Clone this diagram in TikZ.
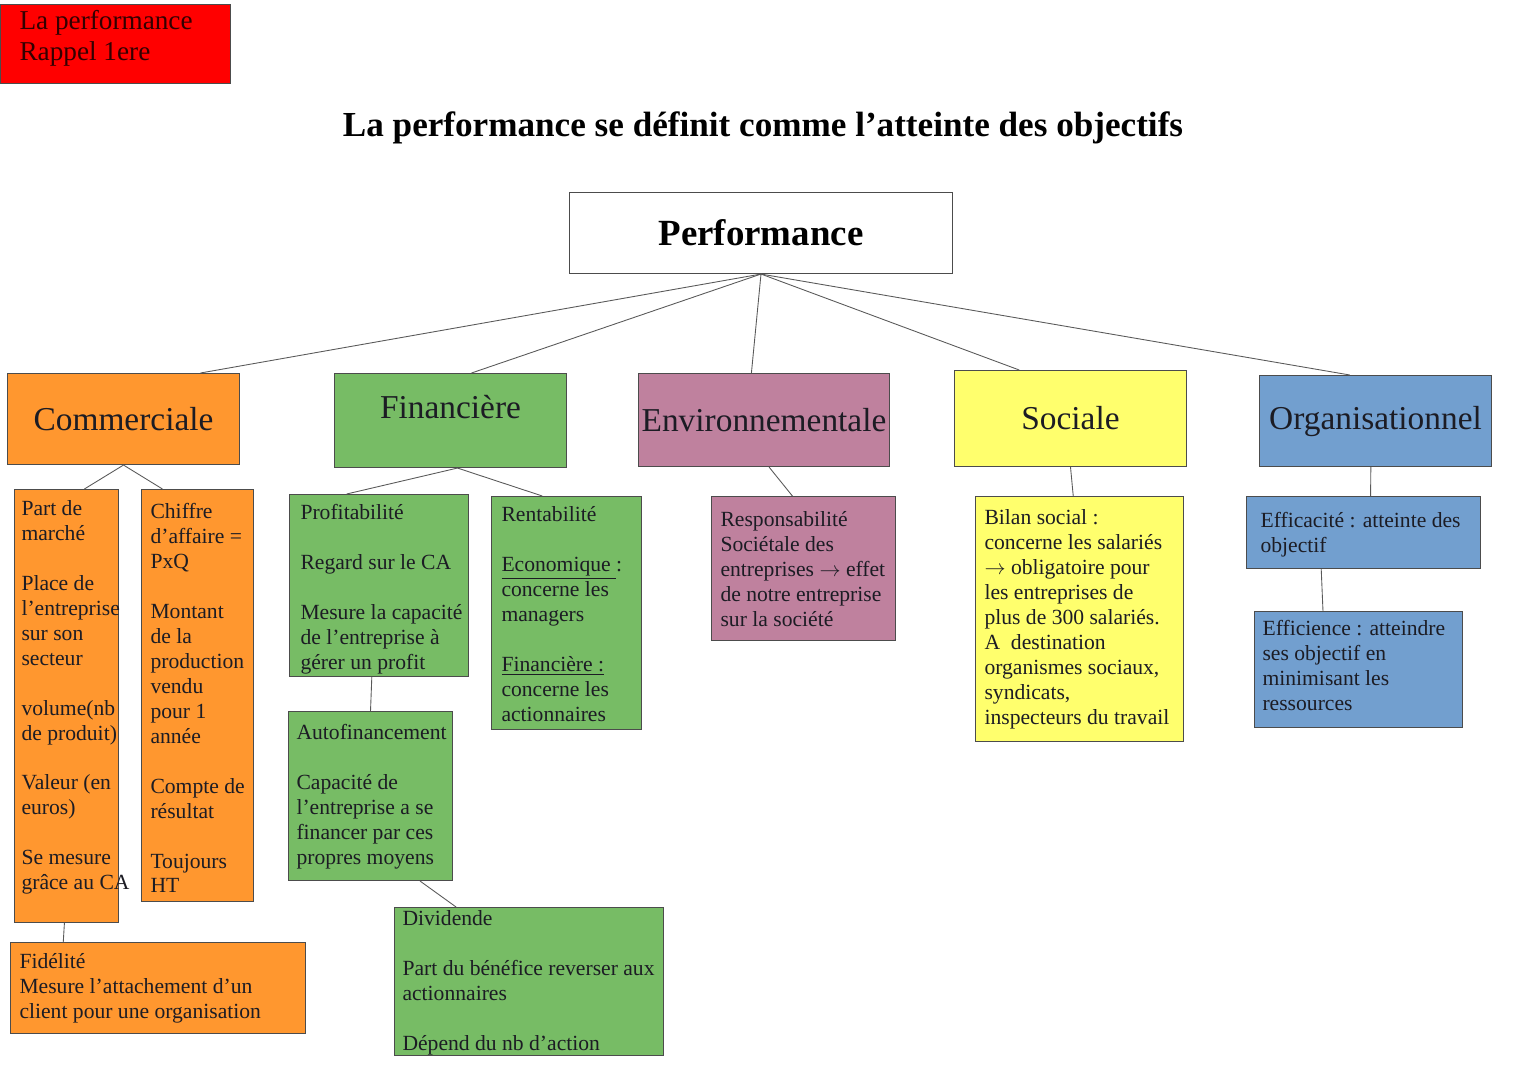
\documentclass[tikz,border=0pt]{standalone}
\usepackage{fontspec}
\setmainfont{Liberation Serif}
\usetikzlibrary{positioning,calc}
\definecolor{orangeb}{HTML}{FF972F}
\definecolor{vertb}{HTML}{77BC65}
\definecolor{roseb}{HTML}{BF819E}
\definecolor{jauneb}{HTML}{FFFF6D}
\definecolor{bleub}{HTML}{729FCF}
\definecolor{rougeb}{HTML}{FF0000}
\definecolor{encre}{HTML}{1C1C24}
\newcommand{\vide}{\\[14.2pt]}
\begin{document}
\begin{tikzpicture}[x=0.02cm,y=-0.02cm,line width=0.6pt,
    boite/.style={draw=black!70,anchor=north west,inner sep=0pt},
    titre/.style={font=\fontsize{19}{22}\selectfont,text=encre},
    texte/.style={anchor=north west,inner sep=0pt,align=left,text=encre,font=\fontsize{12.3}{14.2}\selectfont},
    lien/.style={draw=black!65,line width=0.5pt}]
\useasboundingbox (0,0) rectangle (1527,1080);

% en-tete
\node[boite,fill=rougeb,minimum width=4.6cm,minimum height=1.58cm] (rappel) at (0,4) {};
\node[texte,font=\fontsize{15.5}{17.5}\selectfont,text=black!80!red] (trappel) at (19,10) {La performance\\Rappel 1ere};
\node[font=\bfseries\fontsize{20}{24}\selectfont] (titre) at (763,128) {La performance se définit comme l’atteinte des objectifs};

% niveau 1
\node[boite,fill=white,minimum width=7.66cm,minimum height=1.62cm,font=\bfseries\fontsize{21}{24}\selectfont] (perf) at (569,192) {Performance};

% niveau 2
\node[boite,fill=orangeb,minimum width=4.64cm,minimum height=1.82cm,titre] (com) at (7,373) {Commerciale};
\node[boite,fill=vertb,minimum width=4.64cm,minimum height=1.88cm,titre] (fin) at (334,373) {Financière\rule[-16pt]{0pt}{0pt}};
\node[boite,fill=roseb,minimum width=5.02cm,minimum height=1.86cm,titre] (env) at (638,373) {Environnementale};
\node[boite,fill=jauneb,minimum width=4.64cm,minimum height=1.92cm,titre] (soc) at (954,370) {Sociale};
\node[boite,fill=bleub,minimum width=4.64cm,minimum height=1.82cm,titre] (org) at (1259,375) {Organisationnel};

% niveau 3
\node[boite,fill=orangeb,minimum width=2.08cm,minimum height=8.66cm] (part) at (14,489) {};
\node[boite,fill=orangeb,minimum width=2.24cm,minimum height=8.24cm] (ca) at (141,489) {};
\node[boite,fill=orangeb,minimum width=5.9cm,minimum height=1.82cm] (fid) at (10,942) {};
\node[boite,fill=vertb,minimum width=3.58cm,minimum height=3.64cm] (profit) at (289,494) {};
\node[boite,fill=vertb,minimum width=3cm,minimum height=4.66cm] (renta) at (491,496) {};
\node[boite,fill=vertb,minimum width=3.28cm,minimum height=3.38cm] (auto) at (288,711) {};
\node[boite,fill=vertb,minimum width=5.38cm,minimum height=2.96cm] (divid) at (394,907) {};
\node[boite,fill=roseb,minimum width=3.68cm,minimum height=2.88cm] (resp) at (711,496) {};
\node[boite,fill=jauneb,minimum width=4.16cm,minimum height=4.9cm] (bilan) at (975,496) {};
\node[boite,fill=bleub,minimum width=4.68cm,minimum height=1.44cm] (effica) at (1246,496) {};
\node[boite,fill=bleub,minimum width=4.16cm,minimum height=2.32cm] (effici) at (1254,611) {};

% textes
\node[texte] (tpart) at (21,500) {Part de\\marché\vide Place de\\l’entreprise\\sur son\\secteur\vide volume(nb\\de produit)\vide Valeur (en\\euros)\vide Se mesure\\grâce au CA};
\node[texte] (tca) at (150,503) {Chiffre\\d’affaire =\\PxQ\vide Montant\\de la\\production\\vendu\\pour 1\\année\vide Compte de\\résultat\vide Toujours\\HT};
\node[texte] (tfid) at (19,953) {Fidélité\\Mesure l’attachement d’un\\client pour une organisation};
\node[texte] (tprofit) at (300,504) {Profitabilité\vide Regard sur le CA\vide Mesure la capacité\\de l’entreprise à\\gérer un profit};
\node[texte] (trenta) at (501,506) {Rentabilité\vide \underline{Economique }:\\concerne les\\managers\vide \underline{Financière :}\\concerne les\\actionnaires};
\node[texte] (tauto) at (296,724) {Autofinancement\vide Capacité de\\l’entreprise a se\\financer par ces\\propres moyens};
\node[texte] (tdivid) at (402,910) {Dividende\vide Part du bénéfice reverser aux\\actionnaires\vide Dépend du nb d’action};
\node[texte] (tresp) at (720,511) {Responsabilité\\Sociétale des\\entreprises $\rightarrow$ effet\\de notre entreprise\\sur la société};
\node[texte] (tbilan) at (984,509) {Bilan social :\\concerne les salariés\\$\rightarrow$ obligatoire pour\\les entreprises de\\plus de 300 salariés.\\A\ \ destination\\organismes sociaux,\\syndicats,\\inspecteurs du travail};
\node[texte] (teffica) at (1260,512) {Efficacité : atteinte des\\objectif};
\node[texte] (teffici) at (1262,620) {Efficience : atteindre\\ses objectif en\\minimisant les\\ressources};

% liens
\draw[lien] (perf.south) -- ($(com.north west)!0.83!(com.north east)$);
\draw[lien] (perf.south) -- ($(fin.north west)!0.59!(fin.north east)$);
\draw[lien] (perf.south) -- ($(env.north west)!0.45!(env.north east)$);
\draw[lien] (perf.south) -- ($(soc.north west)!0.28!(soc.north east)$);
\draw[lien] (perf.south) -- ($(org.north west)!0.39!(org.north east)$);
\draw[lien] (com.south) -- ($(part.north west)!0.67!(part.north east)$);
\draw[lien] (com.south) -- ($(ca.north west)!0.19!(ca.north east)$);
\draw[lien] ($(part.south west)!0.48!(part.south east)$) -- ($(fid.north west)!0.18!(fid.north east)$);
\draw[lien] ($(fin.south west)!0.53!(fin.south east)$) -- ($(profit.north west)!0.32!(profit.north east)$);
\draw[lien] ($(fin.south west)!0.53!(fin.south east)$) -- ($(renta.north west)!0.34!(renta.north east)$);
\draw[lien] ($(profit.south west)!0.46!(profit.south east)$) -- ($(auto.north west)!0.5!(auto.north east)$);
\draw[lien] ($(auto.south west)!0.8!(auto.south east)$) -- ($(divid.north west)!0.23!(divid.north east)$);
\draw[lien] ($(env.south west)!0.52!(env.south east)$) -- ($(resp.north west)!0.44!(resp.north east)$);
\draw[lien] (soc.south) -- ($(bilan.north west)!0.47!(bilan.north east)$);
\draw[lien] ($(org.south west)!0.48!(org.south east)$) -- ($(effica.north west)!0.53!(effica.north east)$);
\draw[lien] ($(effica.south west)!0.32!(effica.south east)$) -- ($(effici.north west)!0.33!(effici.north east)$);
\end{tikzpicture}
\end{document}
